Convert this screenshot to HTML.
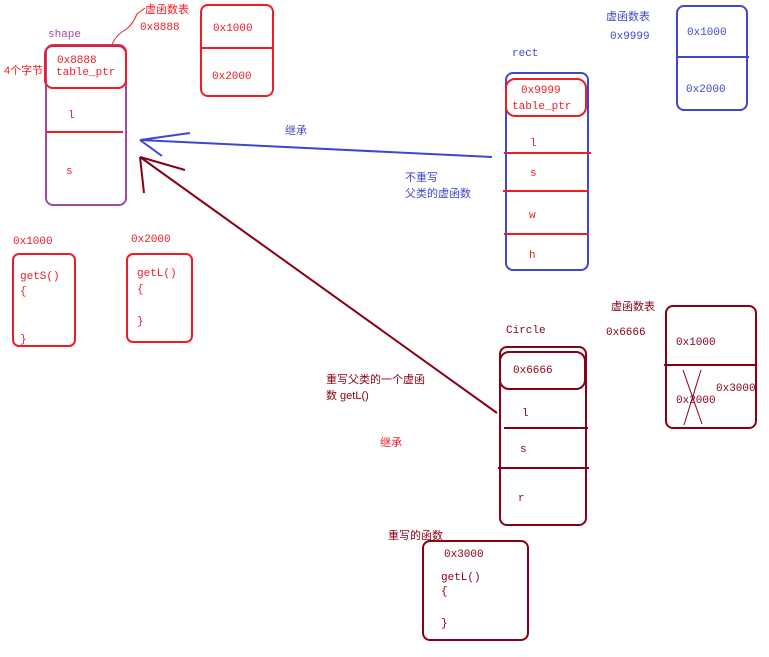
<!DOCTYPE html>
<html><head><meta charset="utf-8"><style>
html,body{margin:0;padding:0;background:#fff;}
svg{display:block;}
text{font-family:"Liberation Mono","Noto Sans CJK SC",monospace;font-size:11px;}
.c{font-family:"Liberation Sans","Noto Sans CJK SC",sans-serif;font-size:11px;}
</style></head><body>
<svg width="769" height="657" viewBox="0 0 769 657" xmlns="http://www.w3.org/2000/svg">
<g fill="none" stroke-width="2">
<!-- shape -->
<rect x="46" y="45" width="80" height="160" rx="7" stroke="#a349a4"/>
<rect x="45" y="46" width="81" height="42" rx="8" stroke="#ee1c24"/>
<line x1="46" y1="132" x2="123" y2="132" stroke="#ee1c24"/>
<path d="M112 45 Q115 36 125 30 Q132 26 137 14 L145 8" stroke="#ee1c24" stroke-width="1"/>
<!-- vtable red -->
<rect x="201" y="5" width="72" height="91" rx="7" stroke="#ee1c24"/>
<line x1="201" y1="48" x2="273" y2="48" stroke="#ee1c24"/>
<!-- rect -->
<rect x="506" y="73" width="82" height="197" rx="7" stroke="#3f48cc"/>
<rect x="506" y="79" width="80" height="37" rx="9" stroke="#ee1c24"/>
<line x1="504" y1="153" x2="591" y2="153" stroke="#ee1c24"/>
<line x1="503" y1="191" x2="589" y2="191" stroke="#ee1c24"/>
<line x1="504" y1="234" x2="589" y2="234" stroke="#ee1c24"/>
<!-- blue vtable -->
<rect x="677" y="6" width="70" height="104" rx="7" stroke="#3f48cc"/>
<line x1="677" y1="57" x2="749" y2="57" stroke="#3f48cc"/>
<!-- circle -->
<rect x="500" y="347" width="86" height="178" rx="7" stroke="#880015"/>
<rect x="500" y="352" width="85" height="37" rx="9" stroke="#880015"/>
<line x1="504" y1="428" x2="588" y2="428" stroke="#880015"/>
<line x1="498" y1="468" x2="589" y2="468" stroke="#880015"/>
<!-- dark vtable -->
<rect x="666" y="306" width="90" height="122" rx="7" stroke="#880015"/>
<line x1="664" y1="365" x2="756" y2="365" stroke="#880015"/>
<line x1="683" y1="370" x2="702" y2="424" stroke="#880015" stroke-width="1"/>
<line x1="701" y1="370" x2="684" y2="425" stroke="#880015" stroke-width="1"/>
<!-- func boxes -->
<rect x="13" y="254" width="62" height="92" rx="6" stroke="#ee1c24"/>
<rect x="127" y="254" width="65" height="88" rx="6" stroke="#ee1c24"/>
<rect x="423" y="541" width="105" height="99" rx="7" stroke="#880015"/>
<!-- arrows -->
<line x1="492" y1="157" x2="140" y2="140" stroke="#3f48cc"/>
<line x1="140" y1="140" x2="190" y2="133" stroke="#3f48cc"/>
<line x1="140" y1="140" x2="162" y2="156" stroke="#3f48cc"/>
<line x1="497" y1="413" x2="140" y2="157" stroke="#880015"/>
<line x1="140" y1="157" x2="185" y2="170" stroke="#880015"/>
<line x1="140" y1="157" x2="144" y2="193" stroke="#880015"/>
</g>
<g fill="#ee1c24">
<text class="c" x="145" y="13">虚函数表</text>
<text x="140" y="30">0x8888</text>
<text x="57" y="63">0x8888</text>
<text x="56" y="75">table_ptr</text>
<text class="c" x="4" y="74">4个字节</text>
<text x="68" y="118">l</text>
<text x="66" y="174">s</text>
<text x="213" y="31">0x1000</text>
<text x="212" y="79">0x2000</text>
<text x="13" y="244">0x1000</text>
<text x="131" y="242">0x2000</text>
<text x="20" y="279">getS()</text>
<text x="20" y="294">{</text>
<text x="20" y="342">}</text>
<text x="137" y="276">getL()</text>
<text x="137" y="292">{</text>
<text x="137" y="324">}</text>
<text x="521" y="93">0x9999</text>
<text x="512" y="109">table_ptr</text>
<text x="530" y="146">l</text>
<text x="530" y="176">s</text>
<text x="529" y="218">w</text>
<text x="529" y="258">h</text>
<text class="c" x="380" y="446">继承</text>
</g>
<g fill="#a349a4"><text x="48" y="37">shape</text></g>
<g fill="#3f48cc">
<text x="512" y="56">rect</text>
<text class="c" x="606" y="20">虚函数表</text>
<text x="610" y="39">0x9999</text>
<text x="687" y="35">0x1000</text>
<text x="686" y="92">0x2000</text>
<text class="c" x="285" y="134">继承</text>
<text class="c" x="405" y="181">不重写</text>
<text class="c" x="405" y="197">父类的虚函数</text>
</g>
<g fill="#880015">
<text x="506" y="333">Circle</text>
<text class="c" x="611" y="310">虚函数表</text>
<text x="606" y="335">0x6666</text>
<text x="513" y="373">0x6666</text>
<text x="522" y="416">l</text>
<text x="520" y="452">s</text>
<text x="518" y="501">r</text>
<text x="676" y="345">0x1000</text>
<text x="676" y="403">0x2000</text>
<text x="716" y="391">0x3000</text>
<text class="c" x="326" y="383">重写父类的一个虚函</text>
<text class="c" x="326" y="399">数 getL()</text>
<text class="c" x="388" y="539">重写的函数</text>
<text x="444" y="557">0x3000</text>
<text x="441" y="580">getL()</text>
<text x="441" y="594">{</text>
<text x="441" y="626">}</text>
</g>
</svg>
</body></html>
